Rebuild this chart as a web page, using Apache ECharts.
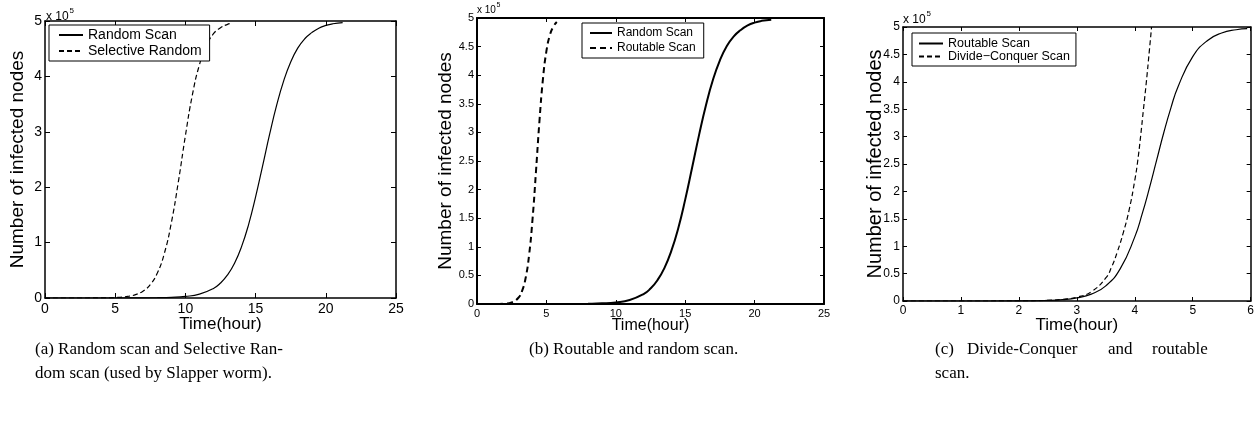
<!DOCTYPE html>
<html><head><meta charset="utf-8">
<script src="https://cdn.jsdelivr.net/npm/echarts@6/dist/echarts.min.js"></script>
<style>html,body{margin:0;padding:0;background:#fff}#c{width:1257px;height:432px}</style>
</head><body><div id="c"></div><script>
// ---------- data (y values in units of 10^5 infected nodes) ----------
const xTicksA = [0, 5, 10, 15, 20, 25];
const yTicksA = [0, 1, 2, 3, 4, 5];
const xTicksB = [0, 5, 10, 15, 20, 25];
const yTicksB = [0, 0.5, 1, 1.5, 2, 2.5, 3, 3.5, 4, 4.5, 5];
const xTicksC = [0, 1, 2, 3, 4, 5, 6];
const yTicksC = [0, 0.5, 1, 1.5, 2, 2.5, 3, 3.5, 4, 4.5, 5];

const randomScanX = [0, 2, 4, 6, 8, 9, 10, 11, 12, 12.5, 13, 13.5, 14, 14.5, 15, 15.5, 16, 16.5, 17, 17.5, 18, 18.5, 19, 19.5, 20, 20.5, 21.2];
const randomScanY = [0, 0, 0, 0.001, 0.005, 0.011, 0.028, 0.07, 0.173, 0.27, 0.416, 0.628, 0.928, 1.326, 1.825, 2.385, 2.957, 3.48, 3.92, 4.26, 4.51, 4.68, 4.79, 4.87, 4.92, 4.95, 4.97];

const selectiveX = [0, 2, 4, 5, 6, 6.5, 7, 7.5, 8, 8.5, 9, 9.5, 10, 10.5, 11, 11.5, 12, 12.5, 13, 13.3];
const selectiveY = [0, 0, 0.002, 0.009, 0.034, 0.066, 0.128, 0.243, 0.45, 0.805, 1.36, 2.10, 2.93, 3.67, 4.21, 4.56, 4.77, 4.88, 4.94, 4.96];

const routableBX = [0, 1, 2, 2.5, 3, 3.25, 3.5, 3.75, 4, 4.25, 4.5, 4.75, 5, 5.25, 5.5, 5.75];
const routableBY = [0, 0, 0.007, 0.028, 0.114, 0.229, 0.45, 0.85, 1.48, 2.32, 3.20, 3.93, 4.42, 4.70, 4.85, 4.93];

const routableCX = [0, 1, 2, 2.5, 2.75, 3, 3.25, 3.5, 3.75, 4, 4.125, 4.25, 4.375, 4.5, 4.625, 4.75, 5, 5.25, 5.5, 5.75, 5.94];
const routableCY = [0, 0, 0.002, 0.011, 0.024, 0.056, 0.125, 0.276, 0.59, 1.17, 1.58, 2.05, 2.56, 3.07, 3.53, 3.92, 4.46, 4.75, 4.89, 4.95, 4.97];

const divideX = [0, 1, 2, 2.5, 2.75, 3, 3.25, 3.5, 3.6, 3.7, 3.8, 3.9, 4.0, 4.05, 4.1, 4.15, 4.2, 4.25, 4.29];
const divideY = [0, 0, 0.002, 0.012, 0.03, 0.07, 0.17, 0.42, 0.62, 0.9, 1.24, 1.65, 2.2, 2.55, 3.0, 3.5, 4.0, 4.55, 5.0];

const legendA = ['Random Scan', 'Selective Random'];
const legendB = ['Random Scan', 'Routable Scan'];
const legendC = ['Routable Scan', 'Divide\u2212Conquer Scan'];

const xTitle = 'Time(hour)';
const yTitle = 'Number of infected nodes';
const captionA1 = '(a) Random scan and Selective Ran-';
const captionA2 = 'dom scan (used by Slapper worm).';
const captionB = '(b) Routable and random scan.';
const captionC1 = ['(c)', 'Divide-Conquer', 'and', 'routable'];
const captionC2 = 'scan.';

// ---------- build ----------
const SANS = 'Liberation Sans';
const SERIF = 'Liberation Serif';
const zip = (xs, ys) => xs.map((x, i) => [x, ys[i]]);

const panels = [
  { grid: { left: 45, top: 21, width: 351, height: 277 }, xt: xTicksA, yt: yTicksA,
    axisW: 1.5, tickFont: 14, tickLen: 5, nameFont: 19, xNameFont: 17, yNameGap: 18, xNameGap: 18 },
  { grid: { left: 477, top: 18, width: 347, height: 286 }, xt: xTicksB, yt: yTicksB,
    axisW: 2, tickFont: 11, tickLen: 4, nameFont: 19, xNameFont: 16, yNameGap: 22, xNameGap: 14 },
  { grid: { left: 903, top: 27, width: 349, height: 274 }, xt: xTicksC, yt: yTicksC,
    axisW: 1.5, tickFont: 12, tickLen: 4, nameFont: 20, xNameFont: 17, yNameGap: 18, xNameGap: 16 }
];

const grid = [], xAxis = [], yAxis = [];
panels.forEach((p, i) => {
  grid.push(Object.assign({ containLabel: false }, p.grid));
  const line = { show: true, onZero: false, lineStyle: { color: '#000', width: p.axisW } };
  const tick = { show: true, inside: true, length: p.tickLen, lineStyle: { color: '#000', width: 1 } };
  const xBase = { type: 'value', gridIndex: i, min: p.xt[0], max: p.xt[p.xt.length - 1],
    interval: p.xt[1] - p.xt[0], splitLine: { show: false }, axisLine: line, axisTick: tick };
  const yBase = { type: 'value', gridIndex: i, min: p.yt[0], max: p.yt[p.yt.length - 1],
    interval: p.yt[1] - p.yt[0], splitLine: { show: false }, axisLine: line, axisTick: tick };
  xAxis.push(Object.assign({}, xBase, { position: 'bottom',
    axisLabel: { color: '#000', fontSize: p.tickFont, fontFamily: SANS, margin: 4, showMinLabel: true, showMaxLabel: true },
    name: xTitle, nameLocation: 'middle', nameGap: p.xNameGap, nameMoveOverlap: false,
    nameTextStyle: { color: '#000', fontSize: p.xNameFont, fontFamily: SANS } }));
  xAxis.push(Object.assign({}, xBase, { position: 'top', axisLabel: { show: false } }));
  yAxis.push(Object.assign({}, yBase, { position: 'left',
    axisLabel: { color: '#000', fontSize: p.tickFont, fontFamily: SANS, margin: 3, showMinLabel: true, showMaxLabel: true },
    name: yTitle, nameLocation: 'middle', nameGap: p.yNameGap, nameMoveOverlap: false,
    nameTextStyle: { color: '#000', fontSize: p.nameFont, fontFamily: SANS } }));
  yAxis.push(Object.assign({}, yBase, { position: 'right', axisLabel: { show: false } }));
});

// series names carry a panel prefix so that each legend picks its own panel's line style
function mkSeries(prefix, name, xs, ys, panel, width, dash) {
  return { type: 'line', name: prefix + '|' + name, data: zip(xs, ys), xAxisIndex: panel * 2, yAxisIndex: panel * 2,
    showSymbol: false, symbol: 'none', smooth: 0.5, animation: false,
    lineStyle: { color: '#000', width: width, type: dash || 'solid' }, itemStyle: { color: '#000' } };
}

const series = [
  mkSeries('a', legendA[0], randomScanX, randomScanY, 0, 1.2),
  mkSeries('a', legendA[1], selectiveX, selectiveY, 0, 1.2, [5, 3]),
  mkSeries('b', legendB[0], randomScanX, randomScanY, 1, 2),
  mkSeries('b', legendB[1], routableBX, routableBY, 1, 2, [6, 4]),
  mkSeries('c', legendC[0], routableCX, routableCY, 2, 1.2),
  mkSeries('c', legendC[1], divideX, divideY, 2, 1.2, [5, 3])
];

function mkLegend(prefix, names, left, top, font, itemW, pad, gap) {
  return { orient: 'vertical', left: left, top: top, data: names.map(n => prefix + '|' + n),
    formatter: n => n.split('|')[1], itemWidth: itemW, itemHeight: font,
    itemGap: gap, padding: pad, borderColor: '#000', borderWidth: 1, backgroundColor: '#fff',
    selectedMode: false, itemStyle: { opacity: 0 },
    textStyle: { color: '#000', fontSize: font, fontFamily: SANS } };
}

const legend = [
  mkLegend('a', legendA, 49, 25, 14, 24, [3, 8, 3, 9], 2),
  mkLegend('b', legendB, 582, 23, 12, 22, [4, 8, 4, 7], 3),
  mkLegend('c', legendC, 912, 33, 12.5, 24, [4, 6, 3, 6], 0)
];

const graphic = [];
function sci(x, y, font) {
  graphic.push({ type: 'text', left: x, top: y, style: { text: 'x 10', font: font + 'px ' + SANS, fill: '#000' } });
  graphic.push({ type: 'text', left: x + font * 1.95, top: y - font * 0.35, style: { text: '5', font: Math.round(font * 0.7) + 'px ' + SANS, fill: '#000' } });
}
sci(46, 11, 12);
sci(477, 5, 10);
sci(903, 14, 12);

function cap(text, x, y) {
  graphic.push({ type: 'text', left: x, top: y, style: { text: text, font: '17px ' + SERIF, fill: '#000' } });
}
cap(captionA1, 35, 341);
cap(captionA2, 35, 365);
cap(captionB, 529, 341);
const cXs = [935, 967, 1108, 1152];
captionC1.forEach((w, i) => cap(w, cXs[i], 341));
cap(captionC2, 935, 365);

const chart = echarts.init(document.getElementById('c'), null, { renderer: 'canvas' });
chart.setOption({ animation: false, backgroundColor: '#fff', grid, xAxis, yAxis, series, legend, graphic });
</script></body></html>
